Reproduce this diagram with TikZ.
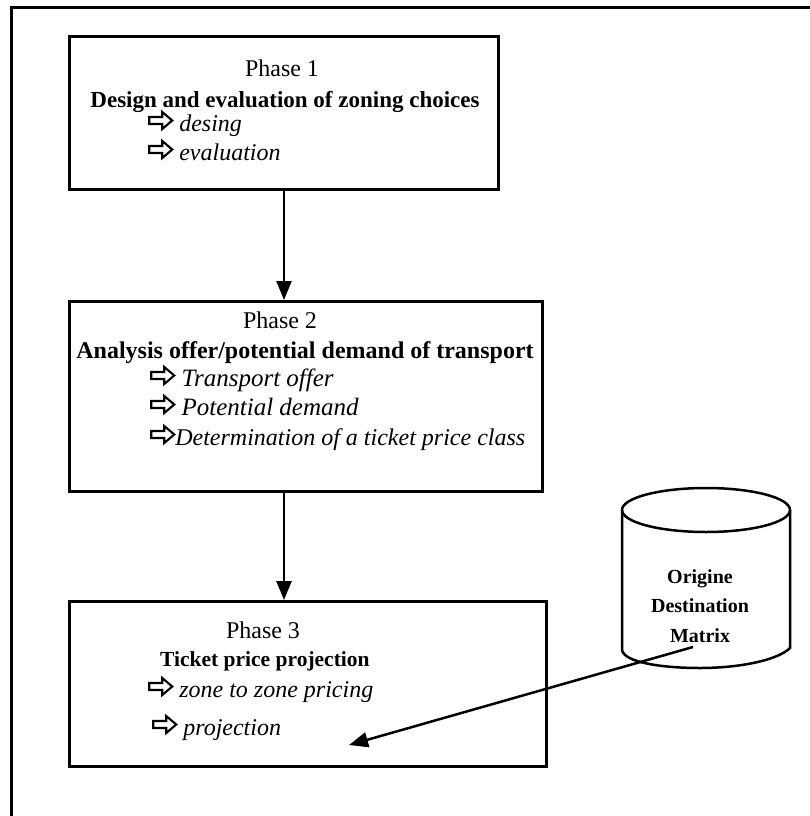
\documentclass[tikz,border=0pt]{standalone}
\usepackage{fontspec}
\setmainfont{Liberation Serif}
\usetikzlibrary{arrows.meta}
\newcommand\harr{\tikz[baseline=0pt,x=1pt,y=1pt]\draw[line width=2.1pt,line join=miter]
  (0,7) -- (13,7) -- (13,2) -- (23,10.5) -- (13,19) -- (13,14) -- (0,14) -- cycle;}
\begin{document}
\begin{tikzpicture}[x=1pt,y=-1pt,
  box/.style={draw,line width=3pt,inner sep=0pt,anchor=north west},
  phase/.style={font=\fontsize{24}{26}\selectfont,anchor=base,inner sep=0pt},
  ttl/.style={font=\bfseries\fontsize{23}{26}\selectfont,anchor=base,inner sep=0pt},
  item/.style={font=\itshape\fontsize{24}{26}\selectfont,anchor=base west,inner sep=0pt},
  flow/.style={line width=2.5pt,-{Triangle[length=19pt,width=15pt]}},
  odtext/.style={font=\bfseries\fontsize{20}{29.5}\selectfont,align=center,inner sep=0pt}]
\useasboundingbox (0,0) rectangle (809,816);
% outer frame (only top and left edges visible)
\draw[line width=3pt] (11,840) -- (11,8) -- (840,8);
% boxes
\node[box,minimum width=429pt,minimum height=153pt] (b1) at (68,35) {};
\node[box,minimum width=473pt,minimum height=190pt] (b2) at (68,300) {};
\node[box,minimum width=477pt,minimum height=165pt] (b3) at (68,600) {};
% box 1 text
\node[phase] (p1) at (282,76) {Phase 1};
\node[ttl] (t1) at (285,107) {Design and evaluation of zoning choices};
\node[item] (i11) at (148,131) {\harr\ desing};
\node[item] (i12) at (148,160) {\harr\ evaluation};
% box 2 text
\node[phase] (p2) at (280,328) {Phase 2};
\node[ttl,font=\bfseries\fontsize{24}{26}\selectfont] (t2) at (305,358) {Analysis offer/potential demand of transport};
\node[item,font=\itshape\fontsize{25}{27}\selectfont] (i21) at (150,386) {\harr\ Transport offer};
\node[item,font=\itshape\fontsize{25}{27}\selectfont] (i22) at (150,415) {\harr\ Potential demand};
\node[item] (i23) at (150,445) {\harr{}Determination of a ticket price class};
% box 3 text
\node[phase] (p3) at (263,638) {Phase 3};
\node[ttl,anchor=base west,font=\bfseries\fontsize{21.5}{24}\selectfont] (t3) at (160,666) {Ticket price projection};
\node[item] (i31) at (148,697) {\harr\ zone to zone pricing};
\node[item] (i32) at (152,735) {\harr\ projection};
% connectors between phases
\draw[flow] (b1.south) -- (b1.south |- b2.north);
\draw[flow] (b2.south -| b1.south) -- (b3.north -| b1.south);
% cylinder
\draw[line width=2.5pt] (622,510) -- (622,650) .. controls (624,662) and (660,668) .. (700,668)
   .. controls (740,668) and (778,660) .. (790,648) -- (790,510);
\draw[line width=2.5pt] (706,510) ellipse [x radius=84pt, y radius=22pt];
\node[odtext] (od) at (700,606) {Origine\\Destination\\Matrix};
% connector from the matrix into phase 3
\coordinate (ostart) at (693,647);
\coordinate (oend) at (349,745);
\draw[flow] (ostart) -- (oend);
\end{tikzpicture}
\end{document}
